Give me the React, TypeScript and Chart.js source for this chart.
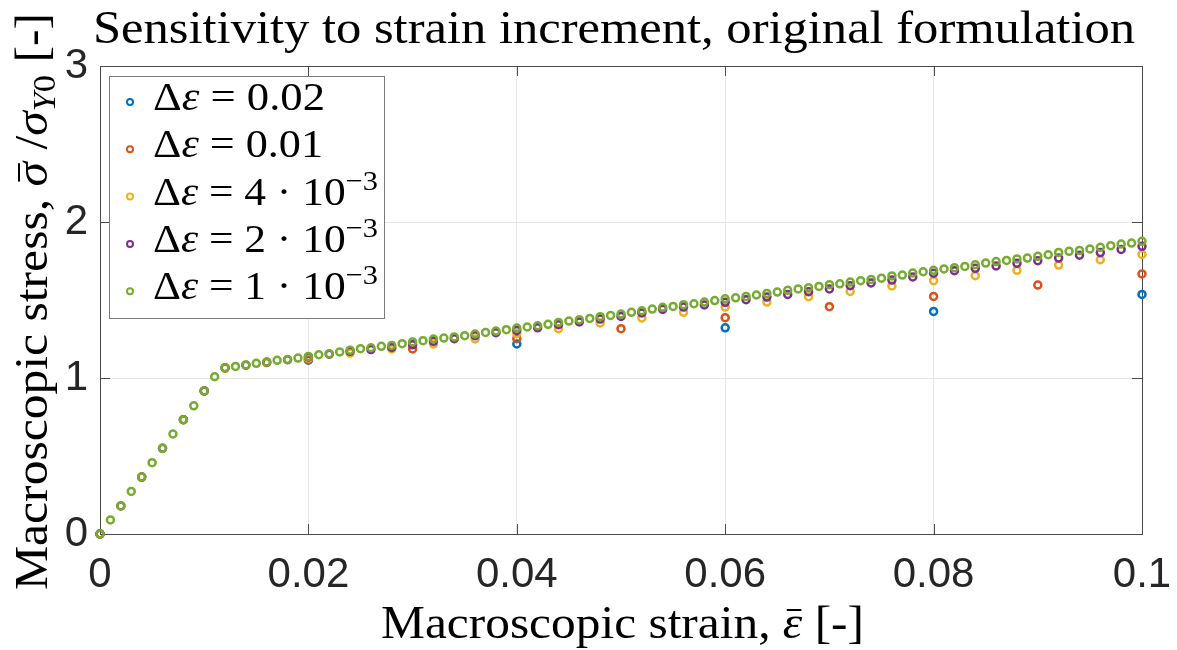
import React, { useEffect, useRef } from 'react';
import { Chart, registerables } from 'chart.js';

Chart.register(...registerables);

// ---------------- data ----------------
const stepSizes = [0.02, 0.01, 0.004, 0.002, 0.001];
const seriesColors = ['#0072BD', '#D95319', '#EDB120', '#7E2F8E', '#77AC30'];
const legendCoef = ['0.02', '0.01', '4', '2', '1'];
const legendExp = ['', '', '\u22123', '\u22123', '\u22123'];

const stressDe002 = [0, 1.114, 1.218, 1.322, 1.427, 1.536];
const stressDe001 = [0, 0.917, 1.117, 1.186, 1.252, 1.316, 1.387, 1.457, 1.523, 1.596, 1.667];
const stressDe4e3 = [
  0, 0.365, 0.733, 1.062, 1.098, 1.128, 1.16, 1.186, 1.218, 1.25, 1.284, 1.316, 1.353,
  1.385, 1.421, 1.455, 1.487, 1.521, 1.555, 1.59, 1.624, 1.656, 1.69, 1.724, 1.758, 1.792,
];
const stressDe2e3 = [
  0, 0.18, 0.365, 0.549, 0.733, 0.917, 1.066, 1.082, 1.101, 1.117, 1.135, 1.153, 1.171,
  1.182, 1.196, 1.213, 1.235, 1.252, 1.271, 1.29, 1.305, 1.322, 1.342, 1.359, 1.378, 1.395,
  1.417, 1.44, 1.455, 1.468, 1.485, 1.502, 1.519, 1.536, 1.553, 1.571, 1.592, 1.609, 1.628,
  1.648, 1.672, 1.688, 1.703, 1.718, 1.735, 1.752, 1.769, 1.787, 1.804, 1.824, 1.844,
];
const stressDe1e3 = [
  0, 0.09, 0.18, 0.273, 0.365, 0.457, 0.549, 0.641, 0.733, 0.822, 0.917, 1.008, 1.066,
  1.074, 1.083, 1.094, 1.103, 1.113, 1.119, 1.128, 1.138, 1.149, 1.156, 1.167, 1.178, 1.188,
  1.194, 1.203, 1.209, 1.22, 1.231, 1.239, 1.25, 1.256, 1.263, 1.271, 1.282, 1.292, 1.301,
  1.31, 1.32, 1.327, 1.335, 1.344, 1.356, 1.365, 1.374, 1.382, 1.393, 1.401, 1.41, 1.421,
  1.431, 1.442, 1.453, 1.459, 1.47, 1.476, 1.487, 1.496, 1.508, 1.514, 1.523, 1.532, 1.542,
  1.551, 1.562, 1.571, 1.579, 1.587, 1.598, 1.604, 1.615, 1.624, 1.632, 1.64, 1.654, 1.66,
  1.673, 1.681, 1.69, 1.699, 1.707, 1.715, 1.726, 1.737, 1.746, 1.754, 1.763, 1.769, 1.78,
  1.79, 1.805, 1.812, 1.818, 1.827, 1.838, 1.848, 1.859, 1.865, 1.876,
];
const allStress = [stressDe002, stressDe001, stressDe4e3, stressDe2e3, stressDe1e3];

const xTickValues = [0, 0.02, 0.04, 0.06, 0.08, 0.1];
const xTickLabels = ['0', '0.02', '0.04', '0.06', '0.08', '0.1'];
const yTickValues = [0, 1, 2, 3];
const yTickLabels = ['0', '1', '2', '3'];

const titleText = 'Sensitivity to strain increment, original formulation';

// ---------------- helpers ----------------
const SERIF = '"Liberation Serif", "DejaVu Serif", serif';

type Seg = { text: string; font: string; dy?: number; bar?: number };

function drawRich(
  ctx: CanvasRenderingContext2D,
  segs: Seg[],
  x: number,
  y: number,
  align: 'left' | 'center',
  targetWidth?: number
) {
  ctx.save();
  const widths = segs.map((s) => {
    ctx.font = s.font;
    return ctx.measureText(s.text).width;
  });
  const total = widths.reduce((a, b) => a + b, 0);
  const sx = targetWidth ? targetWidth / total : 1;
  ctx.translate(x, y);
  ctx.scale(sx, 1);
  let cx = align === 'center' ? -total / 2 : 0;
  ctx.textBaseline = 'alphabetic';
  ctx.textAlign = 'left';
  segs.forEach((s, i) => {
    ctx.font = s.font;
    ctx.fillText(s.text, cx, s.dy || 0);
    if (s.bar) {
      ctx.fillRect(cx + widths[i] * 0.2, -s.bar - 1, widths[i] * 0.75, 2);
    }
    cx += widths[i];
  });
  ctx.restore();
}

const overlayPlugin = {
  id: 'matlabOverlay',
  beforeDatasetsDraw(chart: any) {
    const ctx: CanvasRenderingContext2D = chart.ctx;
    const { left, right, top, bottom } = chart.chartArea;
    const xs = chart.scales.x;
    const ys = chart.scales.y;
    ctx.save();
    ctx.strokeStyle = '#4a4a4a';
    ctx.lineWidth = 1;
    ctx.strokeRect(left + 0.5, top + 0.5, right - left, bottom - top);
    ctx.beginPath();
    const tl = 10;
    xTickValues.forEach((v) => {
      const px = Math.round(xs.getPixelForValue(v)) + 0.5;
      ctx.moveTo(px, bottom);
      ctx.lineTo(px, bottom - tl);
      ctx.moveTo(px, top);
      ctx.lineTo(px, top + tl);
    });
    yTickValues.forEach((v) => {
      const py = Math.round(ys.getPixelForValue(v)) + 0.5;
      ctx.moveTo(left, py);
      ctx.lineTo(left + tl, py);
      ctx.moveTo(right, py);
      ctx.lineTo(right - tl, py);
    });
    ctx.stroke();
    ctx.restore();
  },
  afterDraw(chart: any) {
    const ctx: CanvasRenderingContext2D = chart.ctx;
    ctx.save();
    ctx.fillStyle = '#000000';

    // title
    drawRich(ctx, [{ text: titleText, font: `46px ${SERIF}` }], 93, 43, 'left', 1042);

    // x label
    const fx = 46;
    drawRich(
      ctx,
      [
        { text: 'Macroscopic strain, ', font: `${fx}px ${SERIF}` },
        { text: '\u03B5', font: `italic ${fx}px ${SERIF}`, bar: 28 },
        { text: ' [-]', font: `${fx}px ${SERIF}` },
      ],
      381,
      638,
      'left',
      483
    );

    // y label (rotated)
    ctx.save();
    ctx.translate(47, 590);
    ctx.rotate(-Math.PI / 2);
    drawRich(
      ctx,
      [
        { text: 'Macroscopic stress, ', font: `${fx}px ${SERIF}` },
        { text: '\u03C3', font: `italic ${fx}px ${SERIF}`, bar: 28 },
        { text: ' /', font: `${fx}px ${SERIF}` },
        { text: '\u03C3', font: `italic ${fx}px ${SERIF}` },
        { text: 'Y', font: `italic 32px ${SERIF}`, dy: 8 },
        { text: '0', font: `32px ${SERIF}`, dy: 8 },
        { text: ' [-]', font: `${fx}px ${SERIF}` },
      ],
      0,
      0,
      'left',
      577
    );
    ctx.restore();

    // legend
    const lx = 109.5;
    const ly = 76.5;
    const lw = 275;
    const lh = 242;
    ctx.fillStyle = '#ffffff';
    ctx.fillRect(lx, ly, lw, lh);
    ctx.strokeStyle = '#7a7a7a';
    ctx.lineWidth = 1;
    ctx.strokeRect(lx, ly, lw, lh);
    const rowGap = 47.3;
    const fl = 40;
    legendCoef.forEach((coef, i) => {
      const base = 110 + i * rowGap;
      ctx.beginPath();
      ctx.strokeStyle = seriesColors[i];
      ctx.lineWidth = 2;
      ctx.arc(130, base - 8, 3, 0, Math.PI * 2);
      ctx.stroke();
      ctx.fillStyle = '#000000';
      const segs: Seg[] = [
        { text: '\u0394', font: `${fl}px ${SERIF}` },
        { text: '\u03B5', font: `italic ${fl}px ${SERIF}` },
        { text: ' = ', font: `${fl}px ${SERIF}` },
      ];
      if (legendExp[i]) {
        segs.push({ text: coef + ' \u00B7 10', font: `${fl}px ${SERIF}` });
        segs.push({ text: legendExp[i], font: `28px ${SERIF}`, dy: -15 });
        drawRich(ctx, segs, 153, base, 'left', 225);
      } else {
        segs.push({ text: coef, font: `${fl}px ${SERIF}` });
        drawRich(ctx, segs, 153, base, 'left', coef === '0.02' ? 172 : 170);
      }
    });
    ctx.restore();
  },
};

export default function App() {
  const canvasRef = useRef<HTMLCanvasElement | null>(null);

  useEffect(() => {
    let chart: Chart | null = null;
    let cancelled = false;
    const fontsReady = (document as any).fonts
      ? Promise.all([
          (document as any).fonts.load(`42px "Liberation Sans"`),
          (document as any).fonts.load(`44px "Liberation Serif"`),
          (document as any).fonts.load(`italic 44px "Liberation Serif"`),
        ]).catch(() => null)
      : Promise.resolve(null);

    fontsReady.then(() => {
      if (cancelled || !canvasRef.current) return;
      const datasets = allStress.map((vals, i) => ({
        label: 'de' + legendCoef[i],
        data: vals.map((v, k) => ({ x: k * stepSizes[i], y: v })),
        showLine: false,
        pointStyle: 'circle' as const,
        pointRadius: 3.5,
        pointHoverRadius: 3.5,
        pointBorderWidth: 2.5,
        pointBorderColor: seriesColors[i],
        pointBackgroundColor: 'rgba(0,0,0,0)',
        borderColor: seriesColors[i],
        backgroundColor: 'rgba(0,0,0,0)',
        order: 5 - i,
        clip: false as any,
      }));

      chart = new Chart(canvasRef.current, {
        type: 'scatter',
        data: { datasets },
        options: {
          responsive: false,
          animation: false,
          devicePixelRatio: 1,
          layout: { padding: { top: 66, right: 35, left: 0, bottom: 0 } },
          plugins: {
            legend: { display: false },
            tooltip: { enabled: false },
            title: { display: false },
          },
          events: [],
          scales: {
            x: {
              type: 'linear',
              min: 0,
              max: 0.1,
              afterBuildTicks: (scale: any) => {
                scale.ticks = xTickValues.map((v) => ({ value: v }));
              },
              afterFit: (scale: any) => {
                scale.height = 116;
                scale.paddingLeft = 0;
                scale.paddingRight = 0;
              },
              ticks: {
                autoSkip: false,
                maxRotation: 0,
                minRotation: 0,
                padding: 16,
                color: '#262626',
                font: { family: '"Liberation Sans", Arial, sans-serif', size: 42 },
                callback: (_v: any, idx: number) => xTickLabels[idx],
              },
              grid: { color: '#e6e6e6', lineWidth: 1, drawTicks: false },
              border: { display: false },
            },
            y: {
              type: 'linear',
              min: 0,
              max: 3,
              afterBuildTicks: (scale: any) => {
                scale.ticks = yTickValues.map((v) => ({ value: v }));
              },
              afterFit: (scale: any) => {
                scale.width = 100;
                scale.paddingTop = 0;
                scale.paddingBottom = 0;
              },
              ticks: {
                autoSkip: false,
                padding: 12,
                color: '#262626',
                font: { family: '"Liberation Sans", Arial, sans-serif', size: 42 },
                callback: (_v: any, idx: number) => yTickLabels[idx],
              },
              grid: { color: '#e6e6e6', lineWidth: 1, drawTicks: false },
              border: { display: false },
            },
          },
        },
        plugins: [overlayPlugin],
      });
    });

    return () => {
      cancelled = true;
      if (chart) chart.destroy();
    };
  }, []);

  return (
    <div style={{ position: 'absolute', left: 0, top: 0, width: 1177, height: 650, background: '#ffffff' }}>
      <canvas ref={canvasRef} width={1177} height={650} style={{ width: 1177, height: 650, display: 'block' }} />
    </div>
  );
}
